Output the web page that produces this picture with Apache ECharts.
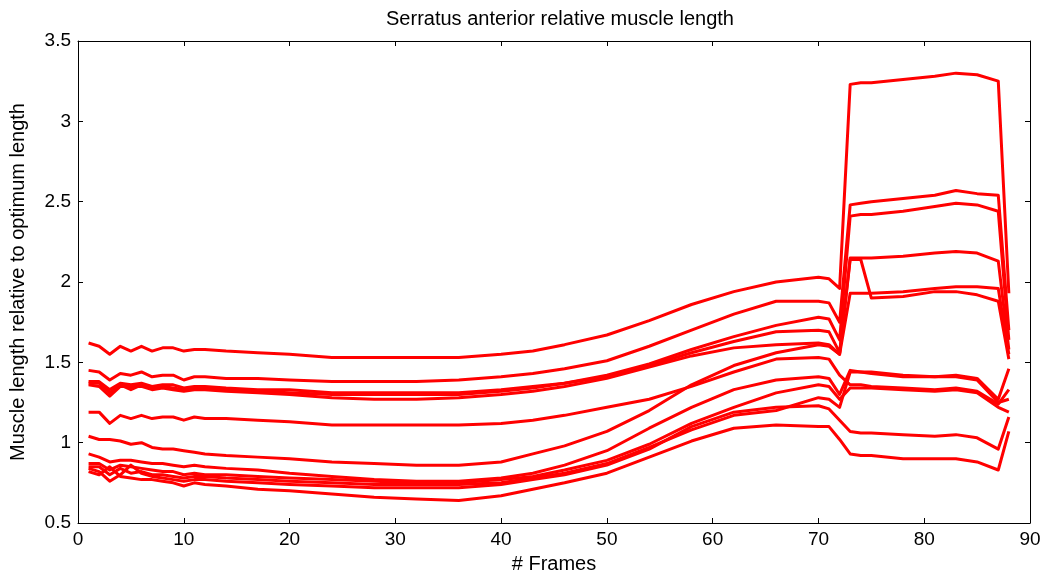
<!DOCTYPE html>
<html>
<head>
<meta charset="utf-8">
<title>Serratus anterior relative muscle length</title>
<script src="https://cdn.jsdelivr.net/npm/echarts@6/dist/echarts.min.js"></script>
<style>
    html, body { margin: 0; padding: 0; background: #fff; }
    #chart { width: 1044px; height: 579px; }
</style>
</head>
<body>
<div id="chart"></div>
<script>
const frames = [1,2,3,4,5,6,7,8,9,10,11,12,14,17,20,24,28,32,36,40,43,46,50,54,58,62,66,70,71,72,73,74,75,78,81,83,85,87,88];

// one array per trial, same order as frames
const trialA = [1.62,1.60,1.55,1.60,1.57,1.60,1.57,1.59,1.59,1.57,1.58,1.58,1.57,1.56,1.55,1.53,1.53,1.53,1.53,1.55,1.57,1.61,1.67,1.76,1.86,1.94,2.00,2.03,2.02,1.96,3.23,3.24,3.24,3.26,3.28,3.30,3.29,3.25,1.93];
const trialB = [1.45,1.44,1.39,1.43,1.42,1.44,1.41,1.42,1.42,1.39,1.41,1.41,1.40,1.40,1.39,1.38,1.38,1.38,1.39,1.41,1.43,1.46,1.51,1.60,1.70,1.80,1.88,1.88,1.87,1.75,2.48,2.49,2.50,2.52,2.54,2.57,2.55,2.54,1.70];
const trialC = [1.38,1.38,1.33,1.37,1.36,1.37,1.35,1.36,1.36,1.34,1.35,1.35,1.34,1.33,1.33,1.31,1.31,1.31,1.31,1.33,1.35,1.37,1.42,1.49,1.58,1.66,1.73,1.78,1.77,1.64,2.41,2.42,2.42,2.44,2.47,2.49,2.48,2.44,1.64];
const trialD = [1.37,1.37,1.31,1.36,1.33,1.36,1.34,1.35,1.34,1.33,1.34,1.34,1.33,1.32,1.31,1.30,1.30,1.30,1.30,1.32,1.34,1.37,1.41,1.48,1.56,1.63,1.69,1.70,1.69,1.56,2.15,2.15,2.15,2.16,2.18,2.19,2.18,2.13,1.58];
const trialE = [1.36,1.35,1.29,1.35,1.35,1.35,1.33,1.34,1.33,1.32,1.33,1.33,1.32,1.31,1.30,1.28,1.27,1.27,1.28,1.30,1.32,1.35,1.40,1.47,1.54,1.59,1.61,1.62,1.61,1.55,2.14,2.14,1.90,1.91,1.94,1.94,1.92,1.88,1.52];
const trialF = [1.04,1.02,1.02,1.01,0.99,1.00,0.97,0.96,0.96,0.95,0.94,0.93,0.92,0.91,0.90,0.88,0.87,0.86,0.86,0.88,0.93,0.98,1.07,1.20,1.36,1.48,1.56,1.61,1.60,1.55,1.93,1.93,1.93,1.94,1.96,1.97,1.97,1.96,1.55];
const trialG = [1.19,1.19,1.12,1.17,1.15,1.17,1.15,1.16,1.16,1.14,1.16,1.15,1.15,1.14,1.13,1.11,1.11,1.11,1.11,1.12,1.14,1.17,1.22,1.27,1.35,1.44,1.52,1.53,1.52,1.42,1.36,1.36,1.35,1.34,1.33,1.34,1.32,1.24,1.33];
const trialH = [0.93,0.91,0.88,0.89,0.89,0.88,0.87,0.87,0.86,0.85,0.86,0.85,0.84,0.83,0.81,0.79,0.77,0.76,0.76,0.78,0.81,0.86,0.95,1.09,1.22,1.33,1.39,1.41,1.40,1.30,1.45,1.44,1.44,1.42,1.41,1.42,1.40,1.27,1.46];
const trialI = [0.87,0.87,0.83,0.86,0.85,0.84,0.83,0.82,0.82,0.80,0.81,0.80,0.80,0.79,0.78,0.77,0.76,0.75,0.75,0.77,0.79,0.83,0.89,0.99,1.12,1.22,1.31,1.36,1.35,1.27,1.34,1.34,1.34,1.33,1.32,1.33,1.31,1.22,1.19];
const trialJ = [0.85,0.85,0.80,0.84,0.81,0.82,0.80,0.80,0.79,0.78,0.79,0.79,0.78,0.77,0.76,0.75,0.74,0.74,0.74,0.75,0.78,0.81,0.87,0.97,1.08,1.17,1.20,1.28,1.27,1.22,1.44,1.44,1.43,1.41,1.41,1.41,1.39,1.25,1.27];
const trialK = [0.84,0.82,0.76,0.80,0.86,0.81,0.79,0.78,0.77,0.76,0.77,0.77,0.76,0.75,0.74,0.73,0.72,0.72,0.72,0.74,0.77,0.80,0.86,0.96,1.10,1.19,1.22,1.23,1.21,1.14,1.07,1.06,1.06,1.05,1.04,1.05,1.03,0.96,1.16];
const trialL = [0.82,0.80,0.85,0.79,0.78,0.77,0.77,0.76,0.75,0.73,0.75,0.74,0.73,0.71,0.70,0.68,0.66,0.65,0.64,0.67,0.71,0.75,0.81,0.91,1.01,1.09,1.11,1.10,1.10,1.02,0.93,0.92,0.92,0.90,0.90,0.90,0.88,0.83,1.07];

const trials = [trialA, trialB, trialC, trialD, trialE, trialF, trialG, trialH, trialI, trialJ, trialK, trialL];

const xTicks = [0,10,20,30,40,50,60,70,80,90];
const yTicks = [0.5,1,1.5,2,2.5,3,3.5];

const FONT = "'Liberation Sans', Arial, sans-serif";

function buildSeries() {
    return trials.map(vals => ({
        type: "line",
        xAxisIndex: 0,
        yAxisIndex: 0,
        showSymbol: false,
        silent: true,
        lineStyle: { color: "#ff0000", width: 3, join: "round" },
        data: frames.map((f, i) => [f, vals[i]])
    }));
}

function axisX(pos, showLabels) {
    return {
        type: "value",
        position: pos,
        min: xTicks[0],
        max: xTicks[xTicks.length - 1],
        interval: 10,
        name: showLabels ? "# Frames" : "",
        nameLocation: "middle",
        nameGap: 31,
        nameTextStyle: { color: "#000", fontSize: 20, fontFamily: FONT },
        axisLine: { show: true, onZero: false, lineStyle: { color: "#000", width: 1 } },
        axisTick: { show: true, inside: true, length: 5, lineStyle: { color: "#000" } },
        axisLabel: { show: showLabels, color: "#000", fontSize: 19, fontFamily: FONT, margin: 7 },
        splitLine: { show: false }
    };
}

function axisY(pos, showLabels) {
    return {
        type: "value",
        position: pos,
        min: yTicks[0],
        max: yTicks[yTicks.length - 1],
        interval: 0.5,
        name: showLabels ? "Muscle length relative to optimum length" : "",
        nameLocation: "middle",
        nameGap: 50,
        nameTextStyle: { color: "#000", fontSize: 20, fontFamily: FONT },
        axisLine: { show: true, onZero: false, lineStyle: { color: "#000", width: 1 } },
        axisTick: { show: true, inside: true, length: 5, lineStyle: { color: "#000" } },
        axisLabel: { show: showLabels, color: "#000", fontSize: 19, fontFamily: FONT, margin: 7 },
        splitLine: { show: false }
    };
}

const chart = echarts.init(document.getElementById("chart"), null, { renderer: "canvas" });

chart.setOption({
    animation: false,
    backgroundColor: "#fff",
    title: {
        text: "Serratus anterior relative muscle length",
        left: 555,
        top: 4,
        textAlign: "center",
        textStyle: { color: "#000", fontSize: 20, fontWeight: "normal", fontFamily: FONT }
    },
    grid: { left: 77, right: 14, top: 41, bottom: 54, containLabel: false },
    xAxis: [axisX("bottom", true), axisX("top", false)],
    yAxis: [axisY("left", true), axisY("right", false)],
    series: buildSeries()
});
</script>
</body>
</html>
